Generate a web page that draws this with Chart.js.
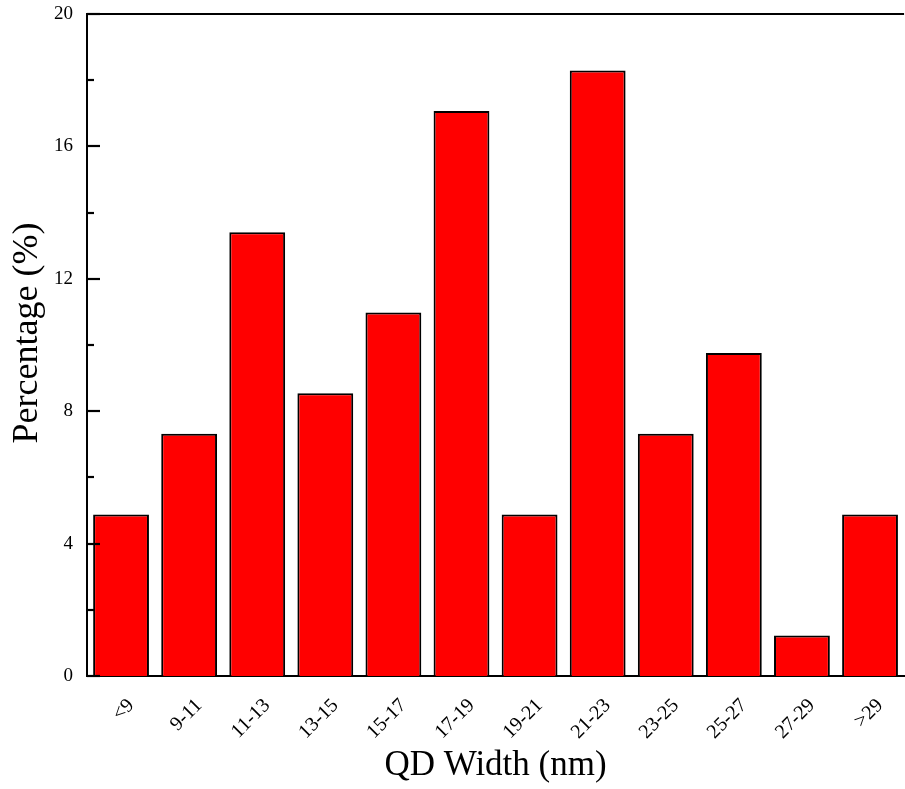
<!DOCTYPE html>
<html>
<head>
<meta charset="utf-8">
<script src="https://cdn.jsdelivr.net/npm/chart.js@4"></script>
<style>
  html, body { margin: 0; padding: 0; background: #fff; }
  #wrap { width: 905px; height: 789px; }
</style>
</head>
<body>
<div id="wrap"><canvas id="qdChart" width="905" height="789"></canvas></div>
<script>
const categories = ['<9', '9-11', '11-13', '13-15', '15-17', '17-19', '19-21', '21-23', '23-25', '25-27', '27-29', '>29'];
const percentages = [4.88, 7.32, 13.41, 8.54, 10.98, 17.07, 4.88, 18.29, 7.32, 9.76, 1.22, 4.88];
const yTicks = [0, 4, 8, 12, 16, 20];

const serif = "'Liberation Serif', 'Times New Roman', serif";

// inward tick marks on the y axis, the top frame line and the y title
const framePlugin = {
  id: 'frame',
  afterDraw(chart) {
    const { ctx, chartArea } = chart;
    const y = chart.scales.y;
    ctx.save();
    ctx.strokeStyle = '#000';
    ctx.lineWidth = 2.2;
    for (let v = 0; v <= 20; v += 2) {
      const py = Math.round(y.getPixelForValue(v));
      const len = yTicks.includes(v) ? 13 : 7;
      ctx.beginPath();
      ctx.moveTo(chartArea.left, py);
      ctx.lineTo(chartArea.left + len, py);
      ctx.stroke();
    }
    ctx.beginPath();
    ctx.moveTo(chartArea.left - 1, chartArea.top);
    ctx.lineTo(chartArea.right, chartArea.top);
    ctx.stroke();

    ctx.translate(28, y.getPixelForValue(10) - 12);
    ctx.rotate(-Math.PI / 2);
    ctx.fillStyle = '#000';
    ctx.font = '36px ' + serif;
    ctx.textAlign = 'center';
    ctx.textBaseline = 'middle';
    ctx.fillText('Percentage (%)', 0, 0);
    ctx.restore();
  }
};

const ctx = document.getElementById('qdChart').getContext('2d');
const qdChart = new Chart(ctx, {
  type: 'bar',
  data: {
    labels: categories,
    datasets: [{
      label: 'Percentage',
      data: percentages,
      backgroundColor: '#ff0000',
      borderColor: '#000',
      borderWidth: 2,
      barPercentage: 0.82,
      categoryPercentage: 1.0
    }]
  },
  options: {
    responsive: false,
    animation: false,
    layout: { padding: 0 },
    plugins: {
      legend: { display: false },
      tooltip: { enabled: false }
    },
    scales: {
      x: {
        grid: { display: false, drawTicks: false },
        border: { display: true, color: '#000', width: 2 },
        ticks: {
          color: '#000',
          font: { family: serif, size: 20 },
          minRotation: 45,
          maxRotation: 45,
          padding: 18,
          labelOffset: 10
        },
        title: {
          display: true,
          text: 'QD Width (nm)',
          color: '#000',
          font: { family: serif, size: 35 },
          padding: { top: 0, bottom: 2 }
        },
        afterFit(scale) { scale.height = 113; }
      },
      y: {
        min: 0,
        max: 20,
        grid: { display: false, drawTicks: false },
        border: { display: true, color: '#000', width: 2 },
        ticks: {
          stepSize: 2,
          color: '#000',
          font: { family: serif, size: 19 },
          padding: 14,
          callback: (v) => yTicks.includes(v) ? v : ''
        },
        afterFit(scale) {
          scale.width = 87;
          scale.paddingTop = 14;
          scale.paddingBottom = 0;
        }
      }
    }
  },
  plugins: [framePlugin]
});
</script>
</body>
</html>
